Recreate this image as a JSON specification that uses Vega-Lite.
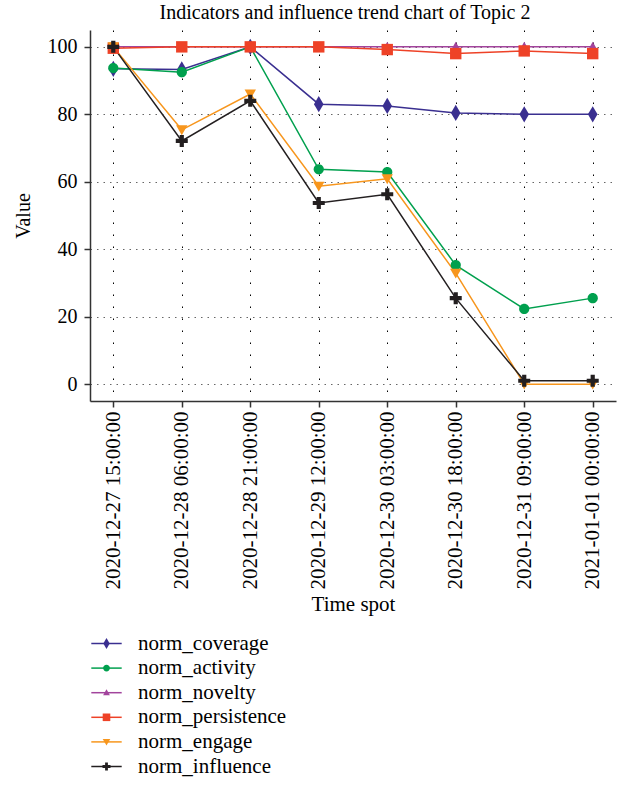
{
  "$schema": "https://vega.github.io/schema/vega-lite/v6.json",
  "autosize": "none",
  "width": 526,
  "height": 371,
  "padding": {"left": 90, "top": 30, "right": 4, "bottom": 387},
  "title": {"text": "Indicators and influence trend chart of Topic 2", "fontSize": 20, "font": "Liberation Serif", "fontWeight": "normal", "color": "#000", "offset": 7, "anchor": "middle", "dx": -8},
  "data": {"values": [
    {"t": "2020-12-27 15:00:00", "series": "norm_coverage", "value": 93.5},
    {"t": "2020-12-28 06:00:00", "series": "norm_coverage", "value": 93.3},
    {"t": "2020-12-28 21:00:00", "series": "norm_coverage", "value": 100},
    {"t": "2020-12-29 12:00:00", "series": "norm_coverage", "value": 83.0},
    {"t": "2020-12-30 03:00:00", "series": "norm_coverage", "value": 82.5},
    {"t": "2020-12-30 18:00:00", "series": "norm_coverage", "value": 80.4},
    {"t": "2020-12-31 09:00:00", "series": "norm_coverage", "value": 80.0},
    {"t": "2021-01-01 00:00:00", "series": "norm_coverage", "value": 80.0},
    {"t": "2020-12-27 15:00:00", "series": "norm_activity", "value": 93.7},
    {"t": "2020-12-28 06:00:00", "series": "norm_activity", "value": 92.5},
    {"t": "2020-12-28 21:00:00", "series": "norm_activity", "value": 100},
    {"t": "2020-12-29 12:00:00", "series": "norm_activity", "value": 63.7},
    {"t": "2020-12-30 03:00:00", "series": "norm_activity", "value": 62.9},
    {"t": "2020-12-30 18:00:00", "series": "norm_activity", "value": 35.3},
    {"t": "2020-12-31 09:00:00", "series": "norm_activity", "value": 22.3},
    {"t": "2021-01-01 00:00:00", "series": "norm_activity", "value": 25.5},
    {"t": "2020-12-27 15:00:00", "series": "norm_novelty", "value": 100},
    {"t": "2020-12-28 06:00:00", "series": "norm_novelty", "value": 100},
    {"t": "2020-12-28 21:00:00", "series": "norm_novelty", "value": 100},
    {"t": "2020-12-29 12:00:00", "series": "norm_novelty", "value": 100},
    {"t": "2020-12-30 03:00:00", "series": "norm_novelty", "value": 100},
    {"t": "2020-12-30 18:00:00", "series": "norm_novelty", "value": 100},
    {"t": "2020-12-31 09:00:00", "series": "norm_novelty", "value": 100},
    {"t": "2021-01-01 00:00:00", "series": "norm_novelty", "value": 100},
    {"t": "2020-12-27 15:00:00", "series": "norm_persistence", "value": 99.6},
    {"t": "2020-12-28 06:00:00", "series": "norm_persistence", "value": 100},
    {"t": "2020-12-28 21:00:00", "series": "norm_persistence", "value": 100},
    {"t": "2020-12-29 12:00:00", "series": "norm_persistence", "value": 100},
    {"t": "2020-12-30 03:00:00", "series": "norm_persistence", "value": 99.2},
    {"t": "2020-12-30 18:00:00", "series": "norm_persistence", "value": 98.0},
    {"t": "2020-12-31 09:00:00", "series": "norm_persistence", "value": 98.8},
    {"t": "2021-01-01 00:00:00", "series": "norm_persistence", "value": 98.0},
    {"t": "2020-12-27 15:00:00", "series": "norm_engage", "value": 100},
    {"t": "2020-12-28 06:00:00", "series": "norm_engage", "value": 75.4},
    {"t": "2020-12-28 21:00:00", "series": "norm_engage", "value": 86.0},
    {"t": "2020-12-29 12:00:00", "series": "norm_engage", "value": 58.7},
    {"t": "2020-12-30 03:00:00", "series": "norm_engage", "value": 60.9},
    {"t": "2020-12-30 18:00:00", "series": "norm_engage", "value": 32.9},
    {"t": "2020-12-31 09:00:00", "series": "norm_engage", "value": 0},
    {"t": "2021-01-01 00:00:00", "series": "norm_engage", "value": 0},
    {"t": "2020-12-27 15:00:00", "series": "norm_influence", "value": 100},
    {"t": "2020-12-28 06:00:00", "series": "norm_influence", "value": 72.1},
    {"t": "2020-12-28 21:00:00", "series": "norm_influence", "value": 84.0},
    {"t": "2020-12-29 12:00:00", "series": "norm_influence", "value": 53.7},
    {"t": "2020-12-30 03:00:00", "series": "norm_influence", "value": 56.3},
    {"t": "2020-12-30 18:00:00", "series": "norm_influence", "value": 25.5},
    {"t": "2020-12-31 09:00:00", "series": "norm_influence", "value": 1.0},
    {"t": "2021-01-01 00:00:00", "series": "norm_influence", "value": 1.0}
  ]},
  "encoding": {
    "x": {"field": "t", "type": "ordinal", "sort": null, "title": "Time spot",
      "scale": {"type": "point", "padding": 0.34},
      "axis": {"labelAngle": 270, "labelAlign": "right", "labelBaseline": "middle", "labelPadding": 4, "labelFontSize": 21, "titleFontSize": 21, "titlePadding": 5, "grid": true, "gridDash": [1.5, 10.5], "gridColor": "#000", "gridWidth": 1}},
    "y": {"field": "value", "type": "quantitative", "title": "Value",
      "scale": {"domain": [-5, 105], "nice": false, "zero": false},
      "axis": {"values": [0, 20, 40, 60, 80, 100], "labelPadding": 7, "titlePadding": 14, "grid": true, "gridDash": [1.5, 5], "gridColor": "#666", "gridWidth": 1}}
  },
  "layer": [
    {
      "mark": {"type": "line", "strokeWidth": 1.5},
      "encoding": {
        "stroke": {"field": "series", "type": "nominal",
          "scale": {"domain": ["norm_influence", "norm_engage", "norm_persistence", "norm_novelty", "norm_activity", "norm_coverage"],
            "range": ["#231f20", "#f7961d", "#ee4227", "#a2449c", "#00a04e", "#3a2f90"]},
          "legend": {"title": null, "orient": "none", "legendX": 4, "legendY": 603,
            "values": ["norm_coverage", "norm_activity", "norm_novelty", "norm_persistence", "norm_engage", "norm_influence"],
            "symbolType": "M-3.8,0L3.8,0", "symbolSize": 64, "symbolStrokeWidth": 1.5, "symbolOpacity": 1,
            "labelFontSize": 21, "labelFont": "Liberation Serif", "labelColor": "#000", "labelOpacity": 0, "rowPadding": 2.6, "symbolOffset": 2, "labelOffset": 21}}
      }
    },
    {
      "mark": {"type": "point", "filled": true, "size": 144, "opacity": 1, "strokeWidth": 0},
      "encoding": {
        "color": {"field": "series", "type": "nominal",
          "scale": {"domain": ["norm_coverage", "norm_activity", "norm_novelty", "norm_persistence", "norm_engage", "norm_influence"],
            "range": ["#3a2f90", "#00a04e", "#a2449c", "#ee4227", "#f7961d", "#231f20"]},
          "legend": {"title": null, "orient": "none", "legendX": 4, "legendY": 603, "symbolType": "circle", "symbolSize": 64, "symbolStrokeWidth": 0.5, "labelFontSize": 21, "labelFont": "Liberation Serif", "labelColor": "#000", "rowPadding": 2.6, "symbolOffset": 2, "labelOffset": 21,
            "encode": {"symbols": {"update": {"shape": {"signal": "scale('shape', datum.value)"}, "fill": {"scale": "color", "field": "value"}, "stroke": {"scale": "color", "field": "value"}, "strokeWidth": {"value": 0.5}, "fillOpacity": {"value": 1}, "strokeOpacity": {"value": 1}, "opacity": {"value": 1}}}}}},
        "shape": {"field": "series", "type": "nominal", "legend": null,
          "scale": {"domain": ["norm_coverage", "norm_activity", "norm_novelty", "norm_persistence", "norm_engage", "norm_influence"],
            "range": [
              "M0,-1.35L0.8,0L0,1.35L-0.8,0Z",
              "M0.85,0A0.85,0.85 0 1,1 -0.85,0A0.85,0.85 0 1,1 0.85,0Z",
              "M0,-0.85L0.85,0.65L-0.85,0.65Z",
              "M-0.95,-0.95H0.95V0.95H-0.95Z",
              "M-0.95,-0.75H0.95L0,0.9Z",
              "M-0.35,-1H0.35V-0.35H1V0.35H0.35V1H-0.35V0.35H-1V-0.35H-0.35Z"
            ]}}
      }
    }
  ],
  "config": {
    "view": {"stroke": null},
    "font": "Liberation Serif",
    "axis": {"labelFont": "Liberation Serif", "titleFont": "Liberation Serif", "labelFontSize": 20, "titleFontSize": 20, "titleFontWeight": "normal", "labelColor": "#000", "titleColor": "#000", "domainColor": "#333", "domainWidth": 1.5, "tickColor": "#333", "tickWidth": 1.5, "tickSize": 6}
  }
}
